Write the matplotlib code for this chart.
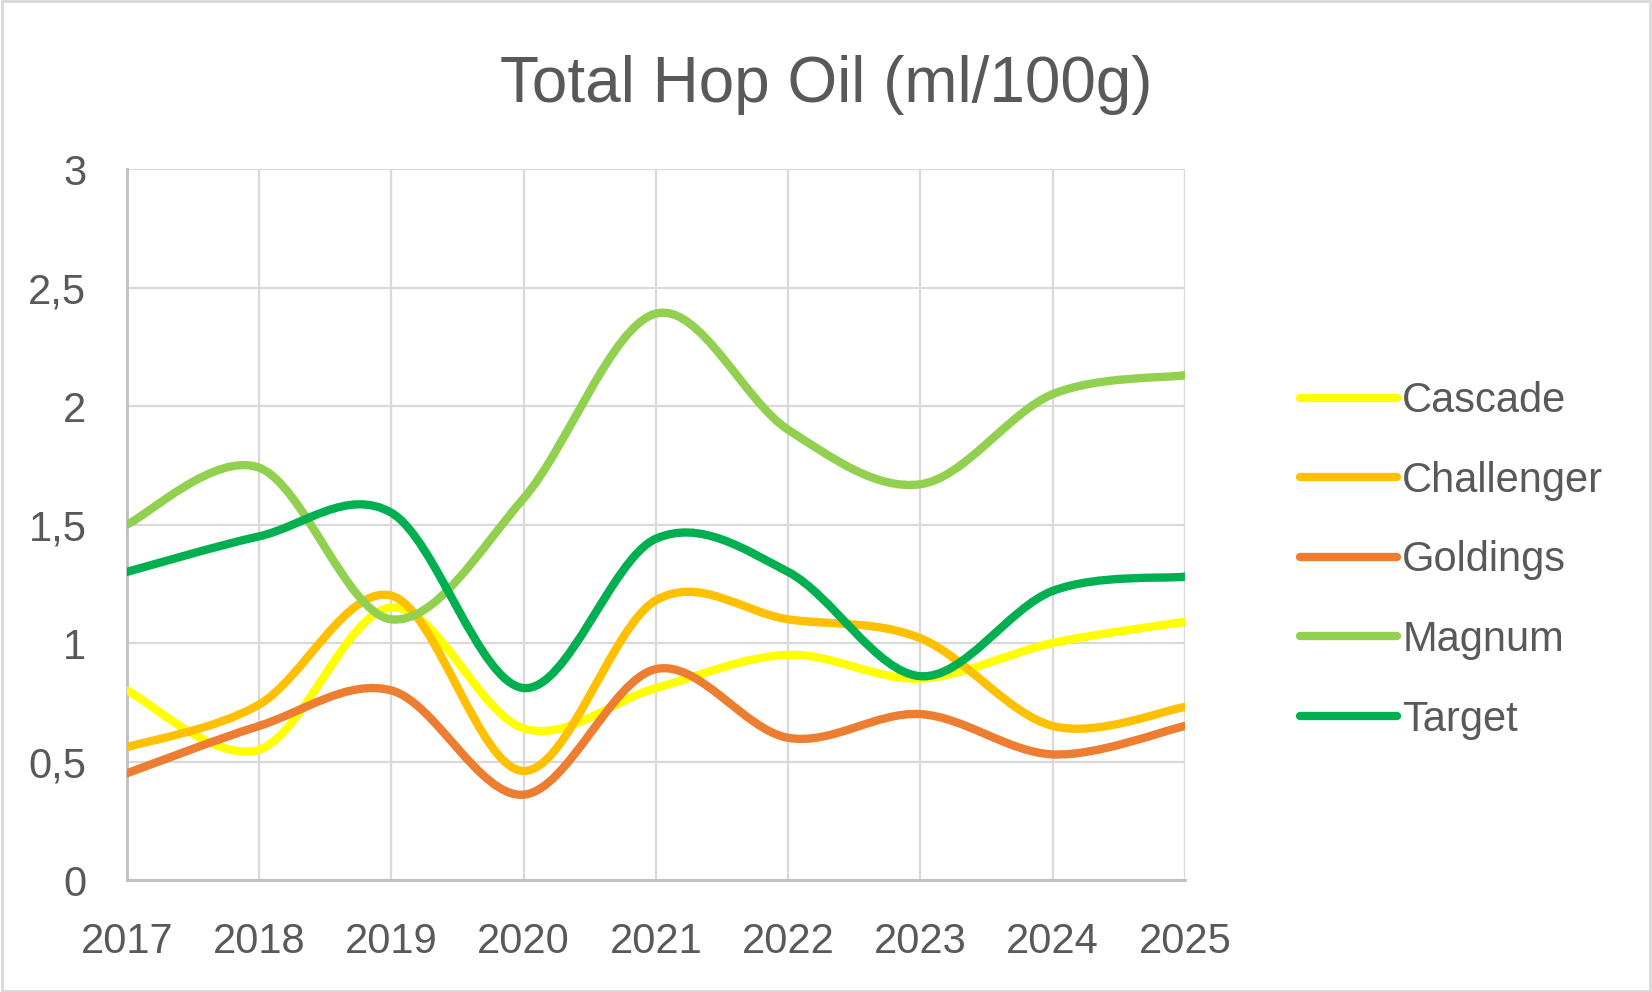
import numpy as np
import matplotlib
matplotlib.use('Agg')
import matplotlib.pyplot as plt
from matplotlib.path import Path
from matplotlib.patches import PathPatch, Rectangle
from matplotlib.lines import Line2D
from matplotlib.ticker import FuncFormatter

years = [2017, 2018, 2019, 2020, 2021, 2022, 2023, 2024, 2025]
cascade = [0.80, 0.55, 1.15, 0.64, 0.81, 0.95, 0.85, 1.00, 1.09]
challenger = [0.56, 0.74, 1.20, 0.46, 1.18, 1.10, 1.02, 0.65, 0.73]
goldings = [0.45, 0.65, 0.80, 0.36, 0.89, 0.60, 0.70, 0.53, 0.65]
magnum = [1.50, 1.74, 1.10, 1.61, 2.39, 1.90, 1.67, 2.05, 2.13]
target = [1.30, 1.45, 1.55, 0.81, 1.44, 1.30, 0.86, 1.22, 1.28]

names = ["Cascade", "Challenger", "Goldings", "Magnum", "Target"]
series = [cascade, challenger, goldings, magnum, target]
colors = ["#FFFF00", "#FFC000", "#ED7D31", "#92D050", "#00B050"]

text_grey = "#595959"
plt.rcParams['font.family'] = ['Liberation Sans', 'DejaVu Sans']


def smooth_path(x, y):
    # bezier segments like excel's "smoothed line"
    pts = np.column_stack([x, y]).astype(float)
    n = len(pts)
    verts = [pts[0]]
    codes = [Path.MOVETO]
    for i in range(n - 1):
        p0 = pts[max(i - 1, 0)]
        p1 = pts[i]
        p2 = pts[i + 1]
        p3 = pts[min(i + 2, n - 1)]
        c1 = p1 + (p2 - p0) / 6.0
        c2 = p2 - (p3 - p1) / 6.0
        verts += [c1, c2, p2]
        codes += [Path.CURVE4] * 3
    return Path(verts, codes)


fig = plt.figure(figsize=(16.52, 9.92), dpi=100)
ax = fig.add_axes([0.0767, 0.1129, 0.7173 - 0.0767, 0.8296 - 0.1129])

lw = 6.0
for name, vals, col in zip(names, series, colors):
    patch = PathPatch(smooth_path(years, vals), facecolor='none', edgecolor=col,
                      lw=lw, capstyle='round', joinstyle='round', zorder=3)
    ax.add_patch(patch)

ax.set_xlim(2017, 2025)
ax.set_ylim(0, 3)
ax.set_xticks(years)
ax.set_yticks(np.arange(0, 3.01, 0.5))
ax.yaxis.set_major_formatter(FuncFormatter(lambda v, p: f"{v:g}".replace('.', ',')))
ax.grid(True, color="#D9D9D9", lw=1.6, zorder=0)
for s in ['top', 'right']:
    ax.spines[s].set_visible(False)
for s in ['left', 'bottom']:
    ax.spines[s].set_color("#BFBFBF")
    ax.spines[s].set_linewidth(2.0)
ax.tick_params(axis='both', length=0, labelsize=30, labelcolor=text_grey)
ax.tick_params(axis='x', pad=30)
ax.tick_params(axis='y', pad=29)

fig.text(0.5, 0.897, "Total Hop Oil (ml/100g)", ha='center', va='baseline',
         fontsize=46, color=text_grey)

handles = [Line2D([0], [0], color=c, lw=lw, solid_capstyle='round') for c in colors]
leg = ax.legend(handles, names, loc='center left', bbox_to_anchor=(0.787, 0.435),
                bbox_transform=fig.transFigure, frameon=False, fontsize=30,
                handlelength=2.33, handletextpad=0.12, labelspacing=0.95,
                borderpad=0, borderaxespad=0)
for t in leg.get_texts():
    t.set_color(text_grey)

fig.add_artist(Rectangle((0.001, 0.001), 0.998, 0.998, transform=fig.transFigure,
                         fill=False, edgecolor="#D9D9D9", lw=2))

fig.savefig("out.png", dpi=100)
